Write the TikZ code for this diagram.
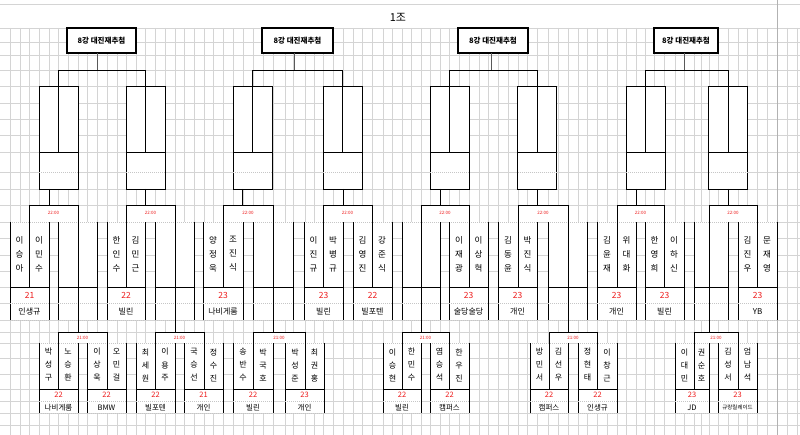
\documentclass[tikz,border=0pt]{standalone}
\usepackage{fontspec}
\setmainfont{Noto Sans CJK KR}
\usetikzlibrary{positioning}
\definecolor{gridgray}{RGB}{212,212,212}
\definecolor{scorered}{RGB}{238,24,24}
\tikzset{
  gridline/.style={draw=gridgray, line width=0.6pt},
  cellline/.style={draw=black, line width=0.6pt},
  faint/.style={draw=gray!45, line width=0.5pt, dash pattern=on 1pt off 1pt},
  cellsep/.style={draw=gray!45, line width=0.5pt, dash pattern=on 1pt off 1pt},
  leg/.style={draw=black, line width=0.8pt},
  stemline/.style={draw=gray!70!black, line width=0.7pt},
  titlebox/.style={draw=black, line width=1.1pt, fill=white, minimum height=25pt,
    inner sep=1pt, font=\fontsize{7.5}{9}\selectfont\bfseries},
  timelabel/.style={text=scorered, font=\fontsize{4.5}{5}\selectfont, inner sep=0pt},
  namecol/.style={align=center, inner sep=0pt},
  scorelabel/.style={text=scorered, font=\fontsize{8.5}{9}\selectfont, inner sep=0pt},
  clublabel/.style={font=\fontsize{8}{9}\selectfont, inner sep=0pt}
}
% quarter-final slot, centred on its leg
\newcommand{\drawslot}[1]{%
  \filldraw[cellline, fill=white] (#1-19.5,86) rectangle (#1+19.5,189);
  \draw[cellline] (#1-19.5,152) -- (#1+19.5,152);
  \draw[cellsep] (#1-19.5,172) -- (#1+19.5,172);
}
% 8강 box, stem, bracket and both slots
\newcommand{\topgroup}[6]{%
  \drawslot{#5}
  \drawslot{#6}
  \node[titlebox, minimum width=#3pt] (#1) at (#2,40.5) {8강 대진재추첨};
  \draw[stemline] (#4,53) -- (#4,70);
  \draw[leg] (#5,152) -- (#5,70) -- (#6,70) -- (#6,152);
}
% upper pair (22:00 round)
\newcommand{\uppair}[8]{%
  \fill[white] (#2,222) rectangle (#4,320);
  \draw[faint] (#2,222) -- (#4,222);
  \draw[cellline] (#2,222) -- (#2,320) (#4,222) -- (#4,320);
  \draw[cellline] (#2,287) -- (#4,287);
  \draw[cellsep] (#2,303) -- (#4,303) (#2,320) -- (#4,320);
  \node[namecol, font=\fontsize{8.5}{14}\selectfont] (#1-p) at ({(#2+#3)/2},254) {#5};
  \node[namecol, font=\fontsize{8.5}{14}\selectfont] (#1-q) at ({(#3+#4)/2},254) {#6};
  \node[scorelabel] (#1-s) at ({(#2+#4)/2},295.5) {#7};
  \node[clublabel] (#1-c) at ({(#2+#4)/2},311.5) {#8};
}
% lower pair (21:00 round)
\newcommand{\lowpair}[8]{%
  \fill[white] (#2,343) rectangle (#4,413);
  \draw[faint] (#2,343) -- (#4,343);
  \draw[cellline] (#2,343) -- (#2,413) (#4,343) -- (#4,413);
  \draw[cellline] (#2,389) -- (#4,389);
  \draw[cellsep] (#2,401) -- (#4,401) (#2,413) -- (#4,413);
  \node[namecol, font=\fontsize{8}{13}\selectfont] (#1-p) at ({(#2+#3)/2},365) {#5};
  \node[namecol, font=\fontsize{8}{13}\selectfont] (#1-q) at ({(#3+#4)/2},365) {#6};
  \node[scorelabel, font=\fontsize{7.5}{8}\selectfont] (#1-s) at ({(#2+#4)/2},395) {#7};
  \node[clublabel, font=\fontsize{7.5}{8}\selectfont] (#1-c) at ({(#2+#4)/2},407.5) {#8};
}
\newcommand{\uptie}[3]{%
  \fill[white] (#2,205) rectangle (#3,222);
  \draw[leg] (#2,287) -- (#2,205) -- (#3,205) -- (#3,287);
  \node[timelabel] (#1) at ({(#2+#3)/2},213) {22:00};
}
\newcommand{\lowtie}[3]{%
  \fill[white] (#2,332) rectangle (#3,343);
  \draw[leg] (#2,389) -- (#2,332) -- (#3,332) -- (#3,389);
  \node[timelabel] (#1) at ({(#2+#3)/2},337.5) {21:00};
}

\begin{document}
\begin{tikzpicture}[x=1pt, y=-1pt]
  \fill[white] (0,0) rectangle (800,435);
  \useasboundingbox (0,0) rectangle (800,435);

  % sheet grid
  \foreach \x in {10,20,29,39,49,58,68,78,87,97,107,117,126,136,145,155,165,175,
      184,194,204,213,223,233,243,253,263,273,285,293,305,314,323,333,343,353,
      362,372,383,392,402,411,421,430,440,449,459,469,479,488,498,508,518,527,
      537,548,558,568,578,587,597,607,617,626,636,645,654,664,675,684,694,701,
      709,718,728,738,747,757,767,787,797}
    \draw[gridline] (\x,28) -- (\x,435);
  \foreach \y in {4,28,42,55,70,86,103,119,135,152,172,189,205,222,238,255,271,
      287,303,320,332,343,358,374,389,401,413,425}
    \draw[gridline] (0,\y) -- (800,\y);
  \draw[draw=gray!60, line width=0.8pt] (777,0) -- (777,435);

  \node[font=\fontsize{11}{13}\selectfont] (title) at (398,17) {1조};

  % quarter-final draw boxes
  \topgroup{g1}{101.5}{69}{97}{58.5}{145.5}
  \topgroup{g2}{297.5}{71}{294}{252.5}{342.5}
  \topgroup{g3}{493}{70}{491}{449.5}{537}
  \topgroup{g4}{686}{64}{684}{645.5}{728}
  \foreach \x in {49,145,242,343,440,537,636,728}
    \draw[leg] (\x,189) -- (\x,205);

  % 22:00 round
  \uppair{t11}{10}{29}{49}{이\\승\\아}{이\\민\\수}{21}{인생규}
  \uppair{t12}{58}{78}{97}{}{}{}{}
  \uptie{m11}{29}{78}
  \uppair{t13}{107}{126}{145}{한\\인\\수}{김\\민\\근}{22}{빌린}
  \uppair{t14}{155}{175}{194}{}{}{}{}
  \uptie{m12}{126}{175}
  \uppair{t21}{203}{223}{243}{양\\정\\욱}{조\\진\\식}{23}{나비게룸}
  \uppair{t22}{253}{273}{293}{}{}{}{}
  \uptie{m21}{223}{273}
  \uppair{t23}{304}{323}{343}{이\\진\\규}{박\\병\\규}{23}{빌린}
  \uppair{t24}{353}{372}{392}{김\\영\\진}{강\\준\\식}{22}{빌포텐}
  \uptie{m22}{323}{372}
  \uppair{t31}{402}{421}{440}{}{}{}{}
  \uppair{t32}{449}{469}{488}{이\\재\\광}{이\\상\\혁}{23}{술당술당}
  \uptie{m31}{421}{469}
  \uppair{t33}{498}{518}{537}{김\\동\\윤}{박\\진\\식}{23}{개인}
  \uppair{t34}{548}{568}{587}{}{}{}{}
  \uptie{m32}{518}{568}
  \uppair{t41}{597}{617}{636}{김\\윤\\재}{위\\대\\화}{23}{개인}
  \uppair{t42}{645}{664}{684}{한\\영\\희}{이\\하\\신}{23}{빌린}
  \uptie{m41}{617}{664}
  \uppair{t43}{694}{709}{728}{}{}{}{}
  \uppair{t44}{738}{757}{777}{김\\진\\우}{문\\재\\영}{23}{YB}
  \uptie{m42}{709}{757}
  \foreach \x in {78,175,273,421,568,709}
    \draw[leg] (\x,287) -- (\x,332);

  % 21:00 round
  \lowpair{u11}{39}{58}{78}{박\\성\\구}{노\\승\\환}{22}{나비게룸}
  \lowpair{u12}{87}{107}{126}{이\\상\\욱}{오\\민\\걸}{22}{BMW}
  \lowtie{n11}{58}{107}
  \lowpair{u13}{136}{155}{175}{최\\세\\원}{이\\용\\주}{22}{빌포텐}
  \lowpair{u14}{184}{204}{223}{국\\승\\선}{정\\수\\진}{21}{개인}
  \lowtie{n12}{155}{204}
  \lowpair{u21}{233}{253}{273}{송\\반\\수}{박\\국\\호}{22}{빌린}
  \lowpair{u22}{285}{305}{324}{박\\성\\준}{최\\권\\홍}{23}{개인}
  \lowtie{n21}{253}{305}
  \lowpair{u31}{383}{402}{421}{이\\승\\현}{한\\민\\수}{22}{빌린}
  \lowpair{u32}{430}{449}{469}{염\\승\\석}{한\\우\\진}{22}{캠퍼스}
  \lowtie{n31}{402}{449}
  \lowpair{u33}{530}{549}{568}{방\\민\\서}{김\\선\\우}{22}{캠퍼스}
  \lowpair{u34}{578}{597}{617}{정\\현\\태}{이\\창\\근}{22}{인생규}
  \lowtie{n32}{549}{597}
  \lowpair{u41}{675}{694}{709}{이\\대\\민}{권\\순\\호}{23}{JD}
  \lowpair{u42}{718}{738}{757}{김\\성\\서}{엄\\남\\석}{23}{{\fontsize{5.5}{6}\selectfont 규랑릴레이드}}
  \lowtie{n41}{694}{738}
\end{tikzpicture}
\end{document}
